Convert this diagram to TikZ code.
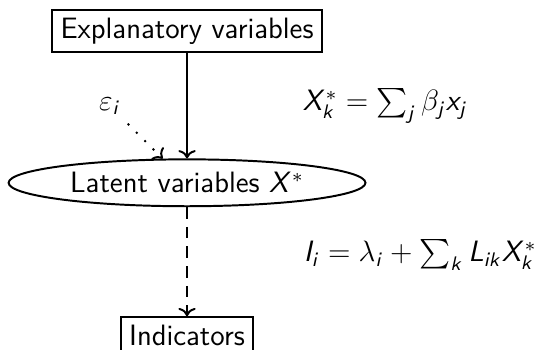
\documentclass[tikz,border=0pt]{standalone}
\usepackage{amsmath}
\usetikzlibrary{arrows.meta, positioning, shapes.geometric}

% sans slanted latin letters in math, greek stays as is
\DeclareSymbolFont{sfit}{OT1}{cmss}{m}{sl}
\makeatletter
\def\sfitlet#1{\DeclareMathSymbol{#1}{\mathalpha}{sfit}{`#1}}
\@tfor\x:=ABCDEFGHIJKLMNOPQRSTUVWXYZabcdefghijklmnopqrstuvwxyz\do{\expandafter\sfitlet\x}
\makeatother

\begin{document}
\begin{tikzpicture}[thick, >=To, font=\large\sffamily,
  varbox/.style={draw, rectangle}]
  \useasboundingbox (0,0) rectangle (220pt,-142.2pt);
  \node [varbox] (expl) at (76.2pt,-12.6pt) {Explanatory variables};
  \node [draw, ellipse, inner sep=0pt, minimum width=145.4pt, minimum height=19.1pt,
    below=42.8pt of expl] (latent) {Latent variables $X^*$};
  \node [varbox, below=44.4pt of latent] (ind) {Indicators};
  \node (eps) at (44.8pt,-43.2pt) {$\varepsilon_i$};
  \node [anchor=west] (eqx) at (119.7pt,-43.2pt) {$X_k^* = \sum_j \beta_j x_j$};
  \node [anchor=west] (eqi) at (120.1pt,-103.9pt) {$I_i = \lambda_i + \sum_k L_{ik} X_k^*$};
  \draw [->] (expl) -- (latent);
  \draw [->, dash pattern=on 4.7pt off 3.3pt] (latent) -- (ind);
  \draw [->, dash pattern=on 0.8pt off 4pt] (eps) -- (latent);
\end{tikzpicture}
\end{document}
